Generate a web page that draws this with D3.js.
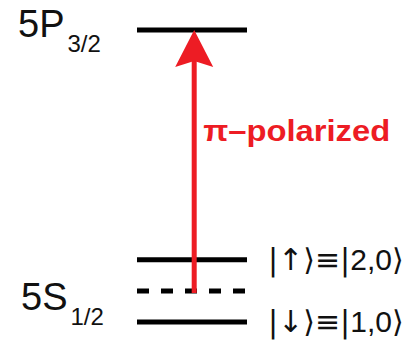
<!DOCTYPE html>
<html>
<head>
<meta charset="utf-8">
<script src="https://cdn.jsdelivr.net/npm/d3@7/dist/d3.min.js"></script>
<style>
  html, body { margin: 0; padding: 0; background: #fff; }
  svg { display: block; }
  text { font-family: "Liberation Sans", Arial, sans-serif; }
  .sym { font-family: "DejaVu Sans", sans-serif; }
</style>
</head>
<body>
<svg id="chart"></svg>
<script>
// Energy levels (arbitrary units, bottom = 0)
const levelIds = ['5P', 'up', 'virtual', 'down'];
const levelEnergies = [9.4, 2, 1, 0];
const levelKinds = ['real', 'real', 'virtual', 'real'];

// Term labels for each manifold
const termMain = ['5P', '5S'];
const termSub = ['3/2', '1/2'];
const termEnergy = [9.4, 0.6];

// Ket labels on the right of the ground levels
const ketLevels = ['up', 'down'];
const ketLabels = ['|\u2191\u27E9\u2261|2,0\u27E9', '|\u2193\u27E9\u2261|1,0\u27E9'];

// Laser transition
const transitionFrom = 'virtual';
const transitionTo = '5P';
const transitionLabel = '\u03C0\u2013polarized';
const transitionLabelEnergy = 5.83;

const width = 419, height = 342;
const red = '#ed1c24';

const svg = d3.select('#chart')
    .attr('width', width)
    .attr('height', height);

const y = d3.scaleLinear()
    .domain([0, 9.4])
    .range([322, 30]);

const x = d3.scaleLinear()
    .domain([0, 1])
    .range([137, 247]);

const energyOf = id => levelEnergies[levelIds.indexOf(id)];

// Level lines
svg.append('g').selectAll('line')
    .data(levelIds)
    .join('line')
    .attr('x1', x(0))
    .attr('x2', x(1))
    .attr('y1', (d, i) => y(levelEnergies[i]))
    .attr('y2', (d, i) => y(levelEnergies[i]))
    .attr('stroke', '#000')
    .attr('stroke-width', 5)
    .attr('stroke-dasharray', (d, i) => levelKinds[i] === 'virtual' ? '12 12' : null);

// Transition arrow
const ax = x(0.52);
const yTop = y(energyOf(transitionTo));
const yBottom = y(energyOf(transitionFrom)) + 2;
const headLen = 37, headHalf = 19;

const arrow = svg.append('g');
arrow.append('line')
    .attr('x1', ax).attr('x2', ax)
    .attr('y1', yBottom)
    .attr('y2', yTop + headLen - 6)
    .attr('stroke', red)
    .attr('stroke-width', 5);

arrow.append('path')
    .attr('d', d3.line()([
        [ax, yTop],
        [ax + headHalf, yTop + headLen],
        [ax, yTop + headLen - 6],
        [ax - headHalf, yTop + headLen]
    ]) + 'Z')
    .attr('fill', red);

arrow.append('text')
    .attr('x', ax + 9)
    .attr('y', y(transitionLabelEnergy))
    .attr('fill', red)
    .attr('font-size', 30)
    .attr('font-weight', 'bold')
    .attr('textLength', 187)
    .attr('lengthAdjust', 'spacingAndGlyphs')
    .text(transitionLabel);

// Term labels
const terms = svg.append('g').selectAll('text')
    .data(termMain)
    .join('text')
    .attr('x', (d, i) => i === 0 ? 18 : 21)
    .attr('y', (d, i) => y(termEnergy[i]) + 7)
    .attr('fill', '#111')
    .attr('font-size', 38);

terms.append('tspan').text(d => d);
terms.append('tspan')
    .attr('font-size', 24)
    .attr('dx', 3)
    .attr('dy', 15)
    .text((d, i) => termSub[i]);

// Ket labels: symbols from DejaVu, digits from Liberation
const kets = svg.append('g').selectAll('text')
    .data(ketLabels)
    .join('text')
    .attr('x', x(1) + 21)
    .attr('y', (d, i) => y(energyOf(ketLevels[i])) + 10)
    .attr('fill', '#111')
    .attr('font-size', 30);

kets.selectAll('tspan')
    .data(d => d.match(/[0-9,]+|[^0-9,]/g))
    .join('tspan')
    .attr('class', d => /[0-9,]/.test(d) ? null : 'sym')
    .text(d => d);
</script>
</body>
</html>
